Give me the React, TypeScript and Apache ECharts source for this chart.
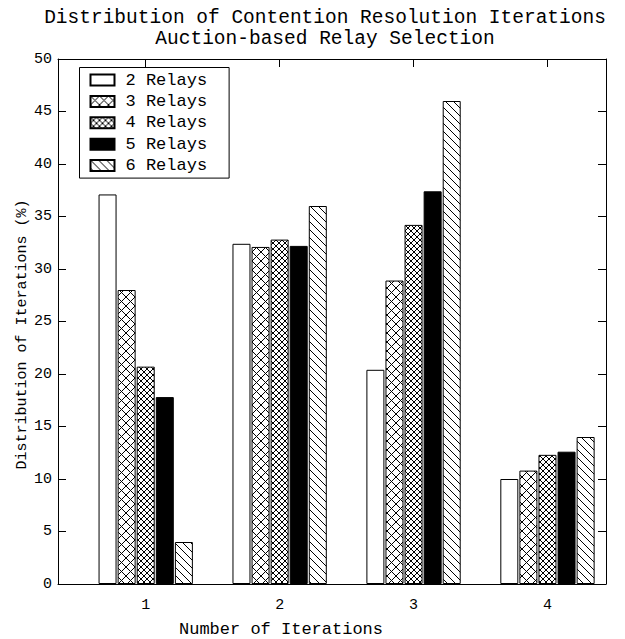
import React, { useEffect, useRef } from "react";
import * as echarts from "echarts";

const iterations = [1, 2, 3, 4];
const seriesNames = ["2 Relays", "3 Relays", "4 Relays", "5 Relays", "6 Relays"];
const relays2 = [37.1, 32.4, 20.4, 10.0];
const relays3 = [28.0, 32.1, 28.9, 10.8];
const relays4 = [20.7, 32.8, 34.2, 12.3];
const relays5 = [17.8, 32.2, 37.4, 12.6];
const relays6 = [4.0, 36.0, 46.0, 14.0];
const seriesValues = [relays2, relays3, relays4, relays5, relays6];

const FONT = "'Liberation Mono', 'DejaVu Sans Mono', monospace";

function svgPattern(body: string, w: number, h: number) {
  const svg =
    `<svg xmlns='http://www.w3.org/2000/svg' width='${w}' height='${h}'>` +
    `<rect width='${w}' height='${h}' fill='white'/>` +
    body +
    `</svg>`;
  return {
    image: "data:image/svg+xml;charset=utf-8," + encodeURIComponent(svg),
    repeat: "repeat",
    imageWidth: w,
    imageHeight: h,
  } as any;
}

function crossPattern(p: number) {
  return svgPattern(
    `<path d='M-1 -1L${p + 1} ${p + 1}M${p + 1} -1L-1 ${p + 1}' stroke='black' stroke-width='1' fill='none'/>`,
    p,
    p
  );
}

function backslashPattern(p: number) {
  return svgPattern(
    `<path d='M-2 -2L${p + 2} ${p + 2}M-2 ${p - 2}L2 ${p + 2}M${p - 2} -2L${p + 2} 2' stroke='black' stroke-width='1' fill='none'/>`,
    p,
    p
  );
}

export default function App() {
  const ref = useRef<HTMLDivElement>(null);

  useEffect(() => {
    if (!ref.current) return;
    const chart = echarts.init(ref.current, undefined, { renderer: "svg" });

    const fills: any[] = [
      "#ffffff",
      crossPattern(9),
      crossPattern(6),
      "#000000",
      backslashPattern(8),
    ];

    const xMin = 0.345;
    const xMax = 4.437;

    const series = seriesNames.map((name, i) => ({
      name,
      type: "bar",
      xAxisIndex: 0,
      yAxisIndex: 0,
      barWidth: 18,
      barGap: "6%",
      data: iterations.map((it, j) => [it, seriesValues[i][j]]),
      itemStyle: {
        color: fills[i],
        borderColor: "#000",
        borderWidth: 1,
      },
    }));

    const axisLineStyle = { color: "#000", width: 1 };

    chart.setOption({
      animation: false,
      backgroundColor: "#ffffff",
      title: {
        text: "Distribution of Contention Resolution Iterations\nAuction-based Relay Selection",
        left: 325,
        top: 7,
        padding: 0,
        textAlign: "center",
        textStyle: {
          fontFamily: FONT,
          fontSize: 19.5,
          fontWeight: "normal",
          color: "#000",
          lineHeight: 21,
        },
      },
      legend: {
        orient: "vertical",
        left: 79.5,
        top: 67.5,
        icon: "rect",
        itemWidth: 24,
        itemHeight: 11,
        itemGap: 4.4,
        padding: [4, 22, 4, 10],
        backgroundColor: "#fff",
        borderColor: "#000",
        borderWidth: 1,
        borderRadius: 0,
        textStyle: {
          fontFamily: FONT,
          fontSize: 17,
          color: "#000",
          lineHeight: 17,
          padding: [0, 0, 0, 6],
        },
        data: seriesNames,
      },
      grid: {
        left: 58,
        right: 19,
        top: 59,
        bottom: 55,
        containLabel: false,
        outerBoundsMode: "none",
      },
      xAxis: [
        {
          type: "value",
          position: "bottom",
          min: xMin,
          max: xMax,
          axisLine: { show: true, onZero: false, lineStyle: axisLineStyle },
          axisTick: {
            show: true,
            inside: true,
            length: 8,
            customValues: iterations,
            lineStyle: axisLineStyle,
          },
          axisLabel: {
            customValues: iterations,
            margin: 14,
            fontFamily: FONT,
            fontSize: 15,
            color: "#000",
          },
          splitLine: { show: false },
          name: "Number of Iterations",
          nameLocation: "middle",
          nameGap: 37,
          nameMoveOverlap: false,
          nameTextStyle: {
            fontFamily: FONT,
            fontSize: 17,
            color: "#000",
            padding: [0, 102, 0, 0],
          },
        },
        {
          type: "value",
          position: "top",
          min: xMin,
          max: xMax,
          axisLine: { show: true, onZero: false, lineStyle: axisLineStyle },
          axisTick: {
            show: true,
            inside: true,
            length: 8,
            customValues: iterations,
            lineStyle: axisLineStyle,
          },
          axisLabel: { show: false },
          splitLine: { show: false },
        },
      ],
      yAxis: [
        {
          type: "value",
          position: "left",
          min: 0,
          max: 50,
          interval: 5,
          axisLine: { show: true, onZero: false, lineStyle: axisLineStyle },
          axisTick: { show: true, inside: true, length: 8, lineStyle: axisLineStyle },
          axisLabel: {
            margin: 6,
            fontFamily: FONT,
            fontSize: 15,
            color: "#000",
          },
          splitLine: { show: false },
          name: "Distribution of Iterations (%)",
          nameLocation: "middle",
          nameGap: 28,
          nameRotate: 90,
          nameMoveOverlap: false,
          nameTextStyle: {
            fontFamily: FONT,
            fontSize: 15,
            color: "#000",
            padding: [0, 26, 0, 0],
          },
        },
        {
          type: "value",
          position: "right",
          min: 0,
          max: 50,
          interval: 5,
          axisLine: { show: true, onZero: false, lineStyle: axisLineStyle },
          axisTick: { show: true, inside: true, length: 8, lineStyle: axisLineStyle },
          axisLabel: { show: false },
          splitLine: { show: false },
        },
      ],
      series,
    });

    return () => {
      chart.dispose();
    };
  }, []);

  return (
    <div
      ref={ref}
      style={{
        position: "fixed",
        left: 0,
        top: 0,
        width: 625,
        height: 639,
        background: "#fff",
      }}
    />
  );
}
